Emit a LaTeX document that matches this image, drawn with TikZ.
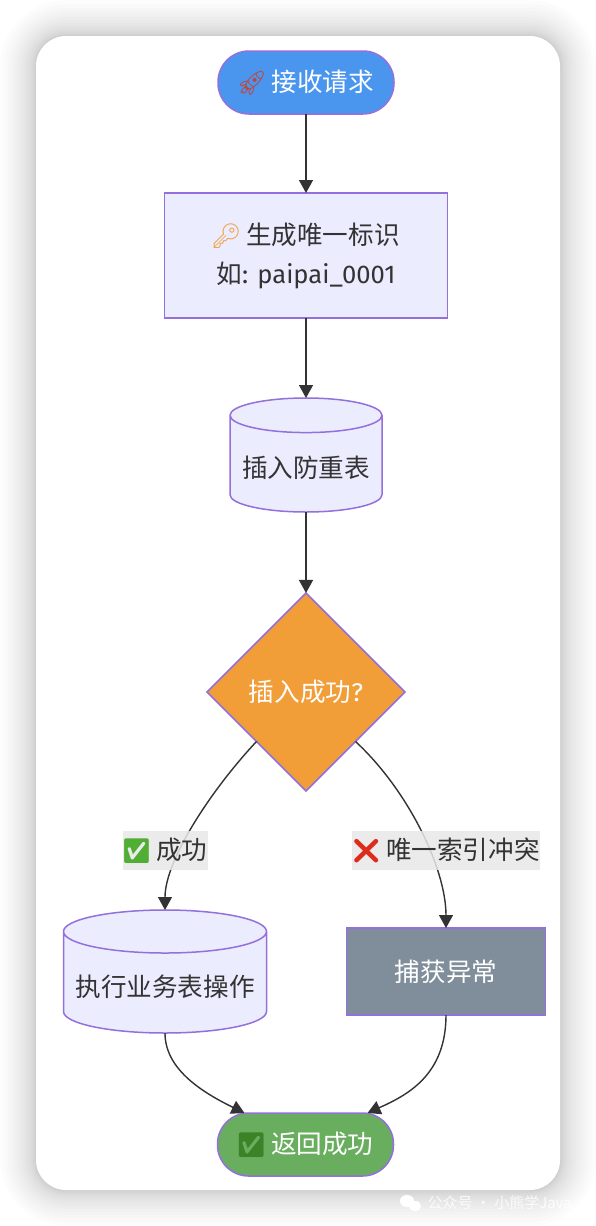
\documentclass[tikz,border=0pt]{standalone}
\usepackage{fontspec}
\setmainfont{Fira Sans}
\newfontfamily\cjk{Noto Sans CJK SC}
\newfontfamily\emo[Scale=.95]{Noto Emoji}
\newcommand\icon[2]{\hspace{-1.5pt}{\emo\color{#1}#2}\hspace{-1.5pt}}
\usetikzlibrary{arrows.meta,positioning,shapes.geometric}
\definecolor{edgeline}{HTML}{333333}
\definecolor{nodeline}{HTML}{9370DB}
\definecolor{nodefill}{HTML}{ECECFF}
\definecolor{startfill}{HTML}{4A96EE}
\definecolor{checkfill}{HTML}{F19D38}
\definecolor{failfill}{HTML}{7F8E9A}
\definecolor{donefill}{HTML}{69AD5F}
\definecolor{lblfill}{HTML}{E8E8E8}
\definecolor{okgreen}{HTML}{4FAE33}
\definecolor{badred}{HTML}{DE2C1C}
\begin{document}
\begin{tikzpicture}[x=1pt,y=1pt,node distance=80pt,
base/.style={draw=nodeline,line width=1.5pt,inner sep=0pt,outer sep=0pt,align=center,text=edgeline,font=\cjk\fontsize{25.6}{39}\selectfont},
pill/.style={base,rectangle,rounded corners=31pt,minimum width=176pt,minimum height=63pt,text=white},
box/.style={base,rectangle,fill=nodefill},
db/.style={base,cylinder,shape border rotate=90,text height=30pt,fill=nodefill,cylinder uses custom fill,cylinder body fill=nodefill,cylinder end fill=nodefill},
lbl/.style={inner sep=0pt,outer sep=0pt,text=edgeline,fill=lblfill,fill opacity=.85,text opacity=1,minimum height=39pt,font=\cjk\fontsize{25.6}{39}\selectfont},
arr/.style={-{Triangle[length=13pt,width=14pt]},line width=1.4pt,draw=edgeline}]
\useasboundingbox (0,0) rectangle (596,-1226);
% card and its shadow
\foreach \i in {18,17,...,1}{\pgfmathsetmacro\grow{.11*\i*\i}
\fill[black,opacity=.01,rounded corners=30pt+\grow pt] (36-\grow,-36+\grow) rectangle (560+\grow,-1190-\grow);}
\fill[white,rounded corners=30pt] (36,-36) rectangle (560,-1190);
% main column
\node[pill,fill=startfill] (start) at (306,-82.5) {\icon{badred!70!gray}{🚀} 接收请求};
\node[box,below=79pt of start,minimum width=283pt,minimum height=125pt] (token) {\icon{checkfill}{🔑} 生成唯一标识\\如{\rmfamily: paipai\_0001}};
\node[db,below=of token,minimum width=152pt,minimum height=114pt,aspect=.27] (dedup) {插入防重表};
\node[base,diamond,below=81pt of dedup,fill=checkfill,text=white,minimum width=198pt,minimum height=198pt] (check) {插入成功{\rmfamily ?}};
% two branches
\node[db,below=119pt of check,xshift=-141pt,minimum width=203pt,minimum height=123pt,aspect=.24] (biz) {执行业务表操作};
\node[box,below=137pt of check,xshift=140pt,fill=failfill,text=white,minimum width=199pt,minimum height=87pt] (fail) {捕获异常};
\node[pill,below=of biz,xshift=140.5pt,fill=donefill] (done) {\icon{okgreen!75!black}{✅} 返回成功};
\coordinate[xshift=-61pt] (doneL) at (done.north);
\coordinate[xshift=62pt] (doneR) at (done.north);
\draw[arr] (start)--(token);\draw[arr] (token)--(dedup);\draw[arr] (dedup)--(check);
\draw[arr] (check.south west) .. controls +(-45,-48) and +(0,50) .. (biz.north);
\draw[arr] (check.south east) .. controls +(52,-48) and +(0,60) .. (fail.north);
\draw[arr] (biz.south) .. controls +(0,-35) and +(-45,22) .. (doneL);
\draw[arr] (fail.south) .. controls +(0,-60) and +(40,18) .. (doneR);
% edge labels sit over the lines
\node[lbl,above=40pt of biz,minimum width=85pt] (okLabel) {\icon{okgreen}{✅} 成功};
\node[lbl,above=58pt of fail,minimum width=187pt] (errLabel) {\icon{badred}{❌} 唯一索引冲突};
% watermark
\fill[white] (407,-1201) ellipse (7pt and 6pt) (415,-1206) ellipse (6pt and 5pt);
\node[text=white,text opacity=.8,font=\cjk\fontsize{15}{15}\selectfont,anchor=west] (mark) at (424,-1203) {公众号 · 小熊学Java};
\end{tikzpicture}
\end{document}
